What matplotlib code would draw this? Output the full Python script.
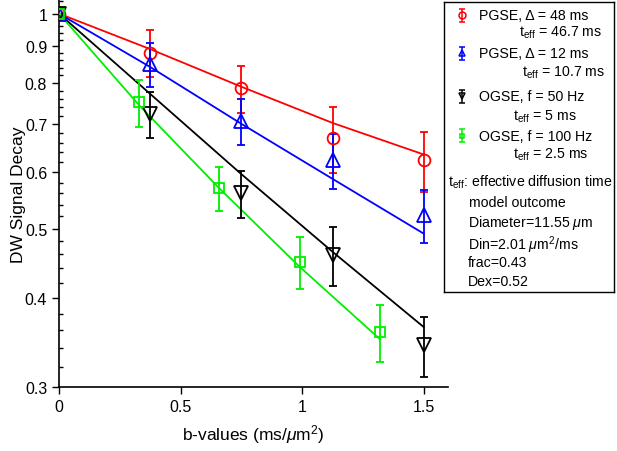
import matplotlib
matplotlib.use("Agg")
import matplotlib.pyplot as plt
from matplotlib.ticker import FixedLocator, NullFormatter, FixedFormatter
import numpy as np

plt.rcParams['font.family'] = ['Liberation Sans', 'DejaVu Sans']
plt.rcParams['mathtext.fontset'] = 'custom'
plt.rcParams['mathtext.rm'] = 'Liberation Sans'
plt.rcParams['mathtext.it'] = 'Liberation Sans:italic'
plt.rcParams['mathtext.bf'] = 'Liberation Sans:bold'

# ---------------- data ----------------
b_pgse = [0, 0.375, 0.75, 1.125, 1.5]
b_ogse50 = [0, 0.375, 0.75, 1.125, 1.5]
b_ogse100 = [0, 0.33, 0.66, 0.99, 1.32]

pgse48_sig = [1.0, 0.881, 0.786, 0.670, 0.623]
pgse48_err = [0.0, 0.067, 0.059, 0.071, 0.060]
pgse48_fit = [1.0, 0.892, 0.790, 0.703, 0.635]

pgse12_sig = [1.0, 0.849, 0.707, 0.624, 0.522]
pgse12_err = [0.0, 0.060, 0.053, 0.055, 0.045]
pgse12_fit = [1.0, 0.842, 0.701, 0.587, 0.492]

ogse50_sig = [1.0, 0.723, 0.560, 0.459, 0.343]
ogse50_err = [0.0, 0.053, 0.042, 0.044, 0.033]
ogse50_fit = [1.0, 0.772, 0.596, 0.464, 0.364]

ogse100_sig = [1.0, 0.751, 0.570, 0.449, 0.358]
ogse100_err = [0.0, 0.057, 0.040, 0.038, 0.033]
ogse100_fit = [1.0, 0.744, 0.569, 0.442, 0.350]

y_ticks = [0.3, 0.4, 0.5, 0.6, 0.7, 0.8, 0.9, 1.0]
y_ticklabels = ['0.3', '0.4', '0.5', '0.6', '0.7', '0.8', '0.9', '1']
x_ticks = [0, 0.5, 1, 1.5]
x_ticklabels = ['0', '0.5', '1', '1.5']

legend_main = ['PGSE, Δ = 48 ms', 'PGSE, Δ = 12 ms', 'OGSE, f = 50 Hz', 'OGSE, f = 100 Hz']
legend_teff = [r'$\mathrm{t}_{\mathrm{eff}}$ = 46.7 ms', r'$\mathrm{t}_{\mathrm{eff}}$ = 10.7 ms',
               r'$\mathrm{t}_{\mathrm{eff}}$ = 5 ms', r'$\mathrm{t}_{\mathrm{eff}}$ = 2.5 ms']
notes = [r'$\mathrm{t}_{\mathrm{eff}}$: effective diffusion time', 'model outcome',
         r'Diameter=11.55 $\mu$m', r'Din=2.01 $\mu$m$^2$/ms', 'frac=0.43', 'Dex=0.52']

RED, BLUE, BLACK, GREEN = '#ff0000', '#0000ff', '#000000', '#00ee00'

# ---------------- figure ----------------
W, H = 617, 452
fig = plt.figure(figsize=(W / 100, H / 100), dpi=100)
ax = fig.add_axes([59 / W, 1 - 388 / H, (448 - 59) / W, (388 - 1) / H])

series = [
    (b_pgse, pgse48_sig, pgse48_err, pgse48_fit, RED, 'o', 8.5),
    (b_pgse, pgse12_sig, pgse12_err, pgse12_fit, BLUE, '^', 9.5),
    (b_ogse50, ogse50_sig, ogse50_err, ogse50_fit, BLACK, 'v', 9.5),
    (b_ogse100, ogse100_sig, ogse100_err, ogse100_fit, GREEN, 's', 6.5),
]
for x, y, e, f, c, m, ms in series:
    ax.plot(x, f, color=c, lw=1.3, zorder=2)
    ax.errorbar(x, y, yerr=e, color=c, marker=m, ms=ms, mfc='none', mec=c,
                mew=1.3, lw=1.3, capsize=3, capthick=1.3, ls='none', zorder=3)

ax.set_yscale('log')
ax.set_xlim(0, 1.6)
ax.set_ylim(0.3, 1.045)
ax.yaxis.set_major_locator(FixedLocator(y_ticks))
ax.yaxis.set_major_formatter(FixedFormatter(y_ticklabels))
minor = [v / 100 for v in range(30, 105, 2) if v % 10 != 0]
ax.yaxis.set_minor_locator(FixedLocator(minor))
ax.yaxis.set_minor_formatter(NullFormatter())
ax.set_xticks(x_ticks)
ax.set_xticklabels(x_ticklabels)
ax.tick_params(axis='both', which='major', direction='out', length=5, width=1,
               labelsize=11.5, colors='black')
ax.tick_params(axis='y', which='minor', direction='in', length=3, width=1)
ax.spines['top'].set_visible(False)
ax.spines['right'].set_visible(False)
for s in ('left', 'bottom'):
    ax.spines[s].set_linewidth(1.2)
ax.set_ylabel('DW Signal Decay', fontsize=12.5, labelpad=-1)
ax.set_xlabel(r'b-values (ms/$\mu$m$^2$)', fontsize=12.5, labelpad=6)

# ---------------- legend box ----------------
lx0, ly0, lx1, ly1 = 444, 3, 614, 293
lax = fig.add_axes([lx0 / W, 1 - ly1 / H, (lx1 - lx0) / W, (ly1 - ly0) / H])
lax.set_xlim(0, lx1 - lx0)
lax.set_ylim(ly1 - ly0, 0)
lax.set_xticks([])
lax.set_yticks([])
for s in lax.spines.values():
    s.set_linewidth(1.0)

main_y = [13, 51, 94.3, 133.7]
teff_y = [29.7, 70, 113.7, 151.3]
teff_x = [75, 77.7, 68.7, 68.7]
for i, (x, y, e, f, c, m, ms) in enumerate(series):
    lax.errorbar([17.7], [main_y[i]], yerr=[6.5], color=c, marker=m, ms=5 if m != 's' else 3.5,
                 mfc='none', mec=c, mew=1.1, lw=1.1, capsize=2.5, capthick=1.1, ls='none')
    lax.text(35, main_y[i], legend_main[i], fontsize=10.2, va='center', ha='left')
    lax.text(teff_x[i], teff_y[i], legend_teff[i], fontsize=10.2, va='center', ha='left')

notes_x = [4.3, 25.3, 24.3, 24, 24, 24]
notes_y = [179.3, 200.3, 219.7, 242, 259.7, 278.7]
for t, xx, yy in zip(notes, notes_x, notes_y):
    lax.text(xx, yy, t, fontsize=10.2, va='center', ha='left')

fig.savefig('out.png', dpi=100)
